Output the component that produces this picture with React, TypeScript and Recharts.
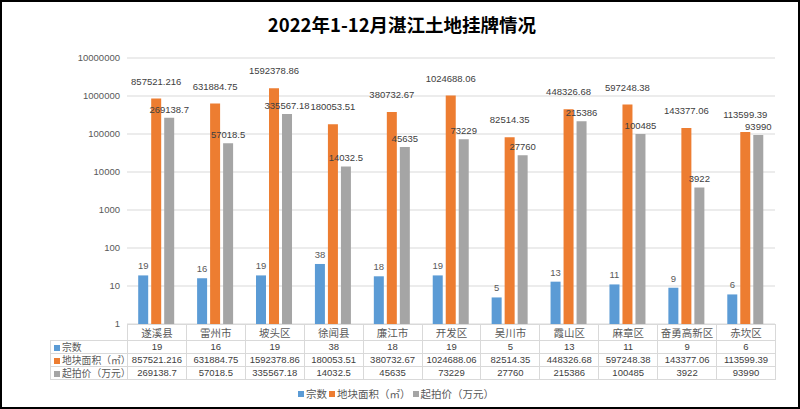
import React from "react"
import {
    BarChart,
    Bar,
    XAxis,
    YAxis,
    CartesianGrid,
    LabelList
} from "recharts"

const categories = ["遂溪县", "雷州市", "坡头区", "徐闻县", "廉江市", "开发区", "吴川市", "霞山区", "麻章区", "奋勇高新区", "赤坎区"]
const counts = [19, 16, 19, 38, 18, 19, 5, 13, 11, 9, 6]
const areas = [857521.216, 631884.75, 1592378.86, 180053.51, 380732.67, 1024688.06, 82514.35, 448326.68, 597248.38, 143377.06, 113599.39]
const prices = [269138.7, 57018.5, 335567.18, 14032.5, 45635, 73229, 27760, 215386, 100485, 3922, 93990]
const yTicks = [1, 10, 100, 1000, 10000, 100000, 1000000, 10000000]

const seriesNames = ["宗数", "地块面积（㎡）", "起拍价（万元）"]
const colors = ["#5b9bd5", "#ed7d31", "#a5a5a5"]

const data = categories.map((name, i) => ({
    name,
    count: counts[i],
    area: areas[i],
    price: prices[i]
}))

const W = 800
const H = 409
const plotLeft = 127
const plotRight = 775
const plotTop = 58
const plotBottom = 324
const numFont = "'Liberation Sans', Arial, sans-serif"
const cjkFont = "'Noto Sans CJK SC', sans-serif"

export default function App() {

    const colW = (plotRight - plotLeft) / categories.length
    const rows = [counts, areas, prices]

    const cell: React.CSSProperties = {
        border: "1px solid #d9d9d9",
        height: 12,
        lineHeight: "12px",
        padding: 0,
        textAlign: "center",
        fontFamily: numFont,
        fontSize: 9.5,
        color: "#404040",
        whiteSpace: "nowrap",
        overflow: "hidden"
    }

    return (
        <div
            style={{
                position: "absolute",
                left: 0,
                top: 0,
                width: W,
                height: H,
                background: "#fff",
                boxSizing: "border-box",
                border: "2px solid #000",
                overflow: "hidden"
            }}
        >
            <div
                style={{
                    position: "absolute",
                    top: 9,
                    left: 2,
                    width: "100%",
                    textAlign: "center",
                    fontFamily: cjkFont,
                    fontWeight: 700,
                    fontSize: 18.5,
                    color: "#000"
                }}
            >
                2022年1-12月湛江土地挂牌情况
            </div>

            <div style={{ position: "absolute", left: -2, top: -2 }}>
                <BarChart
                    width={W}
                    height={H}
                    data={data}
                    margin={{ top: plotTop, right: W - plotRight, bottom: H - plotBottom, left: 0 }}
                    barGap={3}
                    barCategoryGap="19%"
                >
                    <CartesianGrid vertical={false} stroke="#d9d9d9" />
                    <XAxis dataKey="name" hide />
                    <YAxis
                        width={plotLeft}
                        scale="log"
                        domain={[1, 10000000]}
                        ticks={yTicks}
                        allowDataOverflow
                        axisLine={false}
                        tickLine={false}
                        tickSize={0}
                        tickMargin={7}
                        tick={{ fill: "#595959", fontSize: 9.5, fontFamily: numFont }}
                    />
                    <Bar dataKey="count" fill={colors[0]} isAnimationActive={false}>
                        <LabelList dataKey="count" position="top" offset={6} fill="#595959" fontSize={9.5} fontFamily={numFont} />
                    </Bar>
                    <Bar dataKey="area" fill={colors[1]} isAnimationActive={false}>
                        <LabelList dataKey="area" position="top" offset={14} fill="#404040" fontSize={9.5} fontFamily={numFont} />
                    </Bar>
                    <Bar dataKey="price" fill={colors[2]} isAnimationActive={false}>
                        <LabelList dataKey="price" position="top" offset={5} fill="#404040" fontSize={9.5} fontFamily={numFont} />
                    </Bar>
                </BarChart>
            </div>

            <table
                style={{
                    position: "absolute",
                    left: 48,
                    top: plotBottom - 2,
                    borderCollapse: "collapse",
                    tableLayout: "fixed",
                    width: plotRight - 50
                }}
            >
                <colgroup>
                    <col style={{ width: plotLeft - 50 }} />
                    {categories.map((c) => (
                        <col key={c} style={{ width: colW }} />
                    ))}
                </colgroup>
                <tbody>
                    <tr>
                        <td style={{ ...cell, border: "none", borderRight: "1px solid #d9d9d9", height: 15, lineHeight: "15px" }} />
                        {categories.map((c) => (
                            <td key={c} style={{ ...cell, fontFamily: cjkFont, fontSize: 10.5, color: "#595959", height: 15, lineHeight: "15px" }}>
                                {c}
                            </td>
                        ))}
                    </tr>
                    {rows.map((vals, r) => (
                        <tr key={r}>
                            <td style={{ ...cell, textAlign: "left", fontFamily: cjkFont, fontSize: 9.8, color: "#595959", overflow: "visible" }}>
                                <span
                                    style={{
                                        display: "inline-block",
                                        width: 6,
                                        height: 6,
                                        background: colors[r],
                                        margin: "0 2px 0 3px"
                                    }}
                                />
                                {seriesNames[r]}
                            </td>
                            {vals.map((v, i) => (
                                <td key={i} style={cell}>{v}</td>
                            ))}
                        </tr>
                    ))}
                </tbody>
            </table>

            <div
                style={{
                    position: "absolute",
                    top: 384,
                    left: 296,
                    display: "flex",
                    alignItems: "center",
                    fontFamily: cjkFont,
                    fontSize: 10.5,
                    color: "#595959"
                }}
            >
                {seriesNames.map((s, i) => (
                    <span key={s} style={{ display: "flex", alignItems: "center", marginRight: 2 }}>
                        <span style={{ display: "inline-block", width: 6, height: 6, background: colors[i], marginRight: 2 }} />
                        {s}
                    </span>
                ))}
            </div>
        </div>
    )
}
